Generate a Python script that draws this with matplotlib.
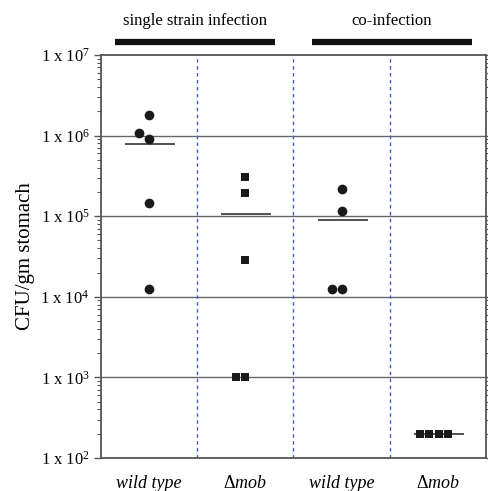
import numpy as np
import matplotlib
matplotlib.use("Agg")
import matplotlib.pyplot as plt
from matplotlib.ticker import LogLocator, NullFormatter, FixedLocator

plt.rcParams['font.family'] = ['Liberation Serif', 'DejaVu Serif']
plt.rcParams['mathtext.fontset'] = 'custom'
plt.rcParams['mathtext.rm'] = 'Liberation Serif'
plt.rcParams['mathtext.it'] = 'Liberation Serif:italic'

# CFU per gram stomach
wt_single = [1.8e6, 1.09e6, 9.0e5, 1.46e5, 1.25e4]
mob_single = [3.1e5, 1.96e5, 2.84e4, 1.0e3, 1.0e3]
wt_co = [2.16e5, 1.17e5, 1.25e4, 1.25e4]
mob_co = [200, 200, 200, 200]

# sideways jitter for overlapping points
wt_single_dx = [0, -0.1, 0, 0, 0]
mob_single_dx = [0, 0, 0, -0.1, 0]
wt_co_dx = [0, 0, -0.1, 0]
mob_co_dx = [-0.19, -0.09, 0.01, 0.11]

group_labels = ['wild type', r'$\Delta\mathit{mob}$', 'wild type', r'$\Delta\mathit{mob}$']
decades = [1e2, 1e3, 1e4, 1e5, 1e6, 1e7]
decade_labels = [r'1 x 10$^{%d}$' % int(np.log10(d)) for d in decades]


def main():
    fig = plt.figure(figsize=(4.89, 4.91), dpi=100)
    ax = fig.add_axes([0.2065, 0.0672, 0.7874, 0.8208])

    groups = [(wt_single, wt_single_dx, 'o', 7.0), (mob_single, mob_single_dx, 's', 6.2),
              (wt_co, wt_co_dx, 'o', 7.0), (mob_co, mob_co_dx, 's', 6.2)]
    for i, (vals, dx, mk, ms) in enumerate(groups):
        xc = i + 0.5
        ax.plot(xc + np.array(dx), vals, ls='none', marker=mk, ms=ms, mew=0,
                color='#1a1a1a', zorder=4)
        ax.hlines(np.mean(vals), xc - 0.25, xc + 0.27, color='#222222', lw=1.1, zorder=3)

    ax.set_yscale('log')
    ax.set_ylim(1e2, 1e7)
    ax.set_xlim(0, 4)

    for d in decades[1:-1]:
        ax.axhline(d, color='#666666', lw=1.0, zorder=1)
    for xb in [1, 2, 3]:
        ax.axvline(xb, color='#3f5fd0', lw=1.0, ls=(0, (2.5, 2.5)), zorder=1)

    ax.yaxis.set_major_locator(FixedLocator(decades))
    ax.set_yticklabels(decade_labels, fontsize=12)
    ax.yaxis.set_minor_locator(LogLocator(base=10, subs=np.arange(2, 10)))
    ax.yaxis.set_minor_formatter(NullFormatter())
    ax.tick_params(axis='y', which='major', direction='out', length=5, width=1,
                   color='#555555', right=True, pad=3)
    ax.tick_params(axis='y', which='minor', direction='out', length=3, width=0.8,
                   color='#555555', right=True)

    ax.set_xticks([0.5, 1.5, 2.5, 3.5])
    ax.set_xticklabels(group_labels, fontsize=13, style='italic')
    ax.tick_params(axis='x', length=0, pad=12)

    for s in ax.spines.values():
        s.set_color('#555555')
        s.set_linewidth(1.3)

    ax.set_ylabel('CFU/gm stomach', fontsize=15, labelpad=4)

    # group bars and titles on top
    trans = ax.get_xaxis_transform()
    ax.plot([0.145, 1.81], [1.032, 1.032], color='#111111', lw=4.5,
            transform=trans, clip_on=False, solid_capstyle='butt')
    ax.plot([2.19, 3.85], [1.032, 1.032], color='#111111', lw=4.5,
            transform=trans, clip_on=False, solid_capstyle='butt')
    ax.text(0.98, 1.085, 'single strain infection', transform=trans,
            ha='center', va='center', fontsize=12)
    ax.text(3.02, 1.085, 'co-infection', transform=trans,
            ha='center', va='center', fontsize=12)

    fig.savefig('out.png', dpi=100)


if __name__ == "__main__":
    main()
